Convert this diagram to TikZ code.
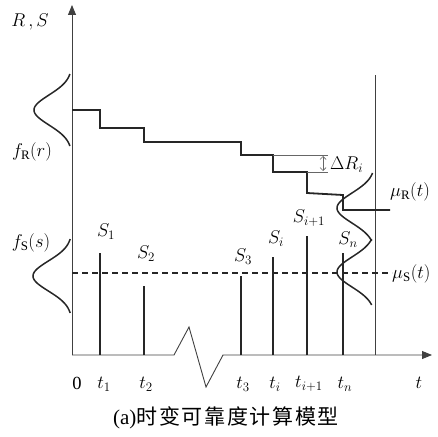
\RequirePackage{fix-cm}
\documentclass[tikz,border=0pt]{standalone}
\usepackage{fontspec}
\setmainfont{Liberation Serif}
\newfontfamily\cjk[LetterSpace=8]{Noto Sans CJK SC}
\usetikzlibrary{arrows.meta}
\tikzset{
  axis/.style={
    draw=black!75, line width=0.9pt,
  },
  stair/.style={
    draw=black!85, line width=1.8pt, line join=miter,
  },
  spike/.style={
    draw=black!85, line width=1.8pt,
  },
  mean/.style={
    draw=black!85, line width=1.5pt, dash pattern=on 6pt off 4pt,
  },
  guide/.style={
    draw=black!60, line width=0.7pt,
  },
  pdf/.style={
    draw=black!85, line width=1.5pt,
  },
  lbl/.style={
    font=\fontsize{18.5}{21}\selectfont, inner sep=0pt,
  },
  caption/.style={
    font=\fontsize{21}{24}\selectfont, inner sep=0pt,
  }
}

\begin{document}
\begin{tikzpicture}[x=1pt, y=-1pt]

  \useasboundingbox (0,0) rectangle (438,436);

  % axes
  \coordinate (O) at (72,355);
  \coordinate (ytip) at (72,5);
  \coordinate (xtip) at (432,355);
  \draw[axis, -{Triangle[length=10pt, width=8pt]}] (O) -- (ytip);
  \draw[axis, -{Triangle[length=10pt, width=8pt]}]
    (O) -- (174,355) -- (189,327) -- (206,387) -- (223,355) -- (xtip);
  \draw[axis] (375,75) -- (375,355);

  % resistance staircase
  \draw[stair] (72,110) -- (100,110) -- (100,128) -- (144,128) -- (144,142)
    -- (241,142) -- (241,155) -- (273,155) -- (273,172) -- (307,172)
    -- (307,193) -- (343,195) -- (343,210) -- (390,210);

  % Delta R_i
  \draw[guide] (273,155) -- (328,155);
  \draw[guide] (307,172) -- (328,172);
  \coordinate (dRtop) at (323,156);
  \coordinate (dRbot) at (323,171);
  \draw[guide, {Straight Barb[length=3pt]}-{Straight Barb[length=3pt]}] (dRtop) -- (dRbot);

  % mean load
  \draw[mean] (72,273) -- (392,273);

  % load spikes
  \draw[spike] (100,355) -- (100,253);
  \draw[spike] (144,355) -- (144,286);
  \draw[spike] (241,355) -- (241,276);
  \draw[spike] (273,355) -- (273,257);
  \draw[spike] (307,355) -- (307,236);
  \draw[spike] (343,355) -- (343,253);

  % densities
  \draw[pdf] plot[domain=-36:36, samples=61, smooth]
    ({72-38*exp(-(\x*\x)/450)}, {110+\x});
  \draw[pdf] plot[domain=-37:37, samples=61, smooth]
    ({72-39*exp(-(\x*\x)/450)}, {276+\x});
  \draw[pdf] plot[domain=-35:33, samples=61, smooth]
    ({375-38*exp(-(\x*\x)/450)}, {208+\x});
  \draw[pdf] plot[domain=-33:33, samples=61, smooth]
    ({375-38*exp(-(\x*\x)/450)}, {272+\x});

  % labels
  \node[lbl] (axlab) at (30,22) {$R\,,S$};
  \node[lbl] (fR) at (32,152) {$f_{\mathrm{R}}(r)$};
  \node[lbl] (fS) at (31,243) {$f_{\mathrm{S}}(s)$};
  \node[lbl] (s1) at (106,232) {$S_1$};
  \node[lbl] (s2) at (146,254) {$S_2$};
  \node[lbl] (s3) at (243,257) {$S_3$};
  \node[lbl] (si) at (276,239) {$S_i$};
  \node[lbl] (si1) at (309,218) {$S_{i+1}$};
  \node[lbl] (sn) at (348,240) {$S_n$};
  \node[lbl, anchor=west] (dR) at (330,165) {$\Delta R_i$};
  \node[lbl, anchor=west] (muR) at (390,192) {$\mu_{\mathrm{R}}(t)$};
  \node[lbl, anchor=west] (muS) at (392,274) {$\mu_{\mathrm{S}}(t)$};

  \node[lbl] (t0) at (77,383) {0};
  \node[lbl] (t1) at (104,384) {$t_1$};
  \node[lbl] (t2) at (146,384) {$t_2$};
  \node[lbl] (t3) at (243,384) {$t_3$};
  \node[lbl] (ti) at (275,384) {$t_i$};
  \node[lbl] (ti1) at (309,384) {$t_{i+1}$};
  \node[lbl] (tn) at (345,384) {$t_n$};
  \node[lbl] (tt) at (419,383) {$t$};

  \node[caption] (cap) at (226,418) {(a)\cjk 时变可靠度计算模型};

\end{tikzpicture}
\end{document}
